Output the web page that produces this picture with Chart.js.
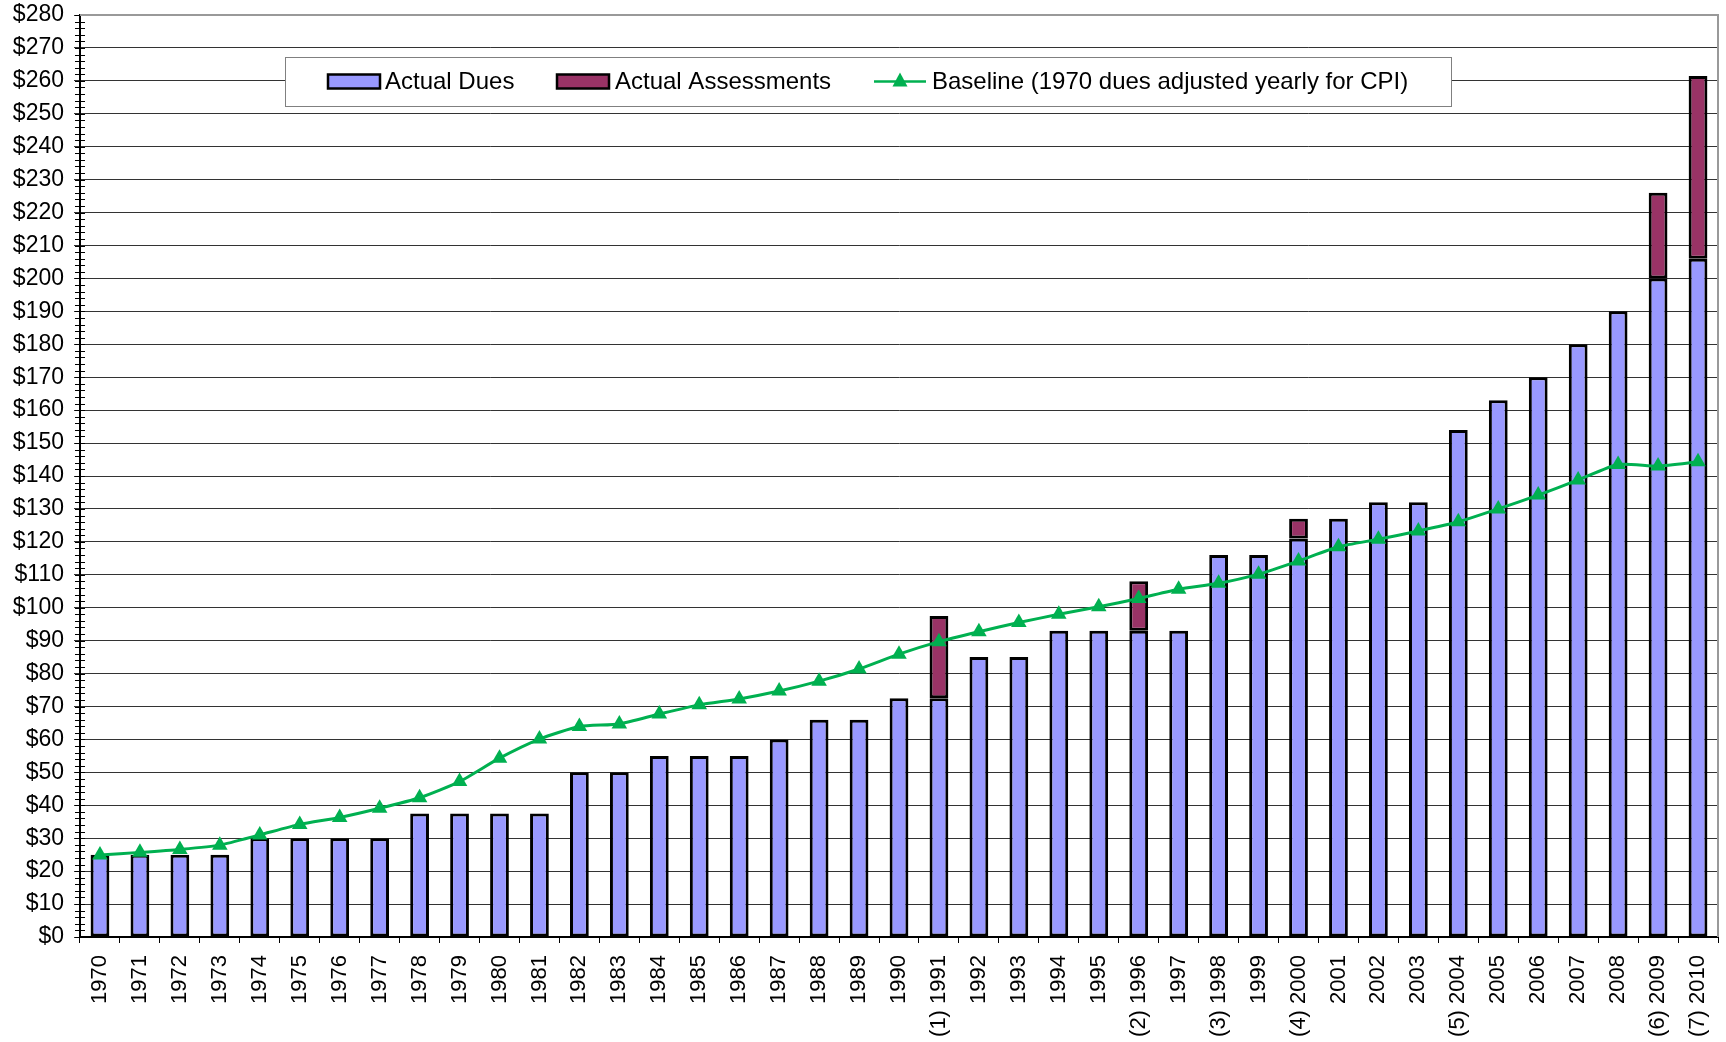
<!DOCTYPE html>
<html>
<head>
<meta charset="utf-8">
<script src="https://cdn.jsdelivr.net/npm/chart.js@4/dist/chart.umd.min.js"></script>
<style>
  html, body { margin: 0; padding: 0; background: #fff; }
  #wrap { width: 1726px; height: 1042px; position: relative; }
</style>
</head>
<body>
<div id="wrap"><canvas id="dues-canvas"></canvas></div>
<script>
const years = ['1970', '1971', '1972', '1973', '1974', '1975', '1976', '1977', '1978', '1979',
  '1980', '1981', '1982', '1983', '1984', '1985', '1986', '1987', '1988', '1989',
  '1990', '(1) 1991', '1992', '1993', '1994', '1995', '(2) 1996', '1997', '(3) 1998', '1999',
  '(4) 2000', '2001', '2002', '2003', '(5) 2004', '2005', '2006', '2007', '2008', '(6) 2009', '(7) 2010']

const actualDues = [25, 25, 25, 25, 30, 30, 30, 30, 37.5, 37.5,
  37.5, 37.5, 50, 50, 55, 55, 55, 60, 66, 66,
  72.5, 72.5, 85, 85, 93, 93, 93, 93, 116, 116,
  121, 127, 132, 132, 154, 163, 170, 180, 190, 200, 206]

const actualAssessments = [null, null, null, null, null, null, null, null, null, null,
  null, null, null, null, null, null, null, null, null, null,
  null, 25, null, null, null, null, 15, null, null, null,
  6, null, null, null, null, null, null, null, null, 26, 55.5]

const baseline = [24.9, 25.7, 26.6, 27.9, 31.0, 34.2, 36.3, 39.1, 42.3, 47.2,
  54.3, 60.1, 63.9, 64.7, 67.7, 70.5, 72.3, 74.7, 77.7, 81.4,
  85.9, 89.7, 92.7, 95.5, 98.0, 100.3, 102.8, 105.6, 107.4, 110.2,
  114.2, 118.5, 120.8, 123.3, 126.1, 130.0, 134.2, 138.8, 143.5, 143.0, 144.3]

const seriesNames = ['Actual Dues', 'Actual Assessments', 'Baseline (1970 dues adjusted yearly for CPI)']

const FONT = "'Liberation Sans', Arial, sans-serif"
const duesColor = '#9999FF'
const assessColor = '#993366'
const lineColor = '#00B050'

// minor ticks on the value axis + gray top/right frame
const framePlugin = {
  id: 'frame',
  afterDraw(chart) {
    const { ctx, chartArea } = chart
    const y = chart.scales.y
    ctx.save()
    ctx.strokeStyle = '#000'
    ctx.lineWidth = 1
    for (let v = 0; v <= 280; v += 2) {
      const py = Math.round(y.getPixelForValue(v)) + 0.5
      ctx.beginPath()
      ctx.moveTo(chartArea.left - 5, py)
      ctx.lineTo(chartArea.left + 5, py)
      ctx.stroke()
    }
    ctx.strokeStyle = '#999'
    ctx.lineWidth = 2
    ctx.beginPath()
    ctx.moveTo(chartArea.left, chartArea.top)
    ctx.lineTo(chartArea.right, chartArea.top)
    ctx.lineTo(chartArea.right, chartArea.bottom)
    ctx.stroke()
    ctx.restore()
  }
}

// legend box drawn inside the plot, like the Excel original
const boxLegend = {
  id: 'boxLegend',
  afterDraw(chart) {
    const { ctx } = chart
    const box = { x: 285, y: 57, w: 1166, h: 49 }
    const midY = box.y + box.h / 2
    ctx.save()
    ctx.fillStyle = '#fff'
    ctx.fillRect(box.x, box.y, box.w, box.h)
    ctx.strokeStyle = '#808080'
    ctx.lineWidth = 1
    ctx.strokeRect(box.x + 0.5, box.y + 0.5, box.w, box.h)

    ctx.font = '24px ' + FONT
    ctx.textBaseline = 'middle'

    const swatch = (x, color) => {
      ctx.fillStyle = color
      ctx.fillRect(x, midY - 7, 52, 14)
      ctx.strokeStyle = '#000'
      ctx.lineWidth = 2.5
      ctx.strokeRect(x, midY - 7, 52, 14)
    }
    swatch(328, duesColor)
    ctx.fillStyle = '#000'
    ctx.fillText(seriesNames[0], 385, midY + 1)
    swatch(557, assessColor)
    ctx.fillStyle = '#000'
    ctx.fillText(seriesNames[1], 615, midY + 1)

    ctx.strokeStyle = lineColor
    ctx.lineWidth = 2.5
    ctx.beginPath()
    ctx.moveTo(874, midY)
    ctx.lineTo(926, midY)
    ctx.stroke()
    ctx.fillStyle = lineColor
    ctx.beginPath()
    ctx.moveTo(900, midY - 9)
    ctx.lineTo(907.5, midY + 5)
    ctx.lineTo(892.5, midY + 5)
    ctx.closePath()
    ctx.fill()
    ctx.fillStyle = '#000'
    ctx.fillText(seriesNames[2], 932, midY + 1)
    ctx.restore()
  }
}

new Chart(document.querySelector('#dues-canvas'), {
  type: 'bar',
  data: {
    labels: years,
    datasets: [
      {
        type: 'line',
        label: seriesNames[2],
        data: baseline,
        stack: 'baseline',
        order: 0,
        borderColor: lineColor,
        backgroundColor: lineColor,
        borderWidth: 3,
        tension: 0.2,
        pointStyle: 'triangle',
        pointRadius: 9,
        pointBorderWidth: 0,
        pointBackgroundColor: lineColor
      },
      {
        label: seriesNames[0],
        data: actualDues,
        stack: 'dues',
        order: 1,
        backgroundColor: duesColor,
        borderColor: '#000',
        borderWidth: 3,
        borderSkipped: false,
        categoryPercentage: 1,
        barPercentage: 0.47
      },
      {
        label: seriesNames[1],
        data: actualAssessments,
        stack: 'dues',
        order: 1,
        backgroundColor: assessColor,
        borderColor: '#000',
        borderWidth: 3,
        borderSkipped: false,
        categoryPercentage: 1,
        barPercentage: 0.47
      }
    ]
  },
  options: {
    responsive: true,
    maintainAspectRatio: false,
    animation: false,
    layout: { autoPadding: false, padding: { top: 15, right: 8, left: 0, bottom: 0 } },
    plugins: {
      legend: { display: false },
      tooltip: { enabled: false }
    },
    scales: {
      x: {
        stacked: true,
        afterFit(scale) {
          scale.height = 105
          scale.paddingLeft = 0
          scale.paddingRight = 0
        },
        grid: {
          drawOnChartArea: false,
          drawTicks: true,
          tickLength: 6,
          color: '#000',
          offset: true
        },
        border: { color: '#000', width: 2 },
        ticks: {
          color: '#000',
          font: { family: FONT, size: 22 },
          minRotation: 90,
          maxRotation: 90,
          autoSkip: false,
          padding: 12
        }
      },
      y: {
        stacked: true,
        min: 0,
        max: 280,
        afterFit(scale) {
          scale.width = 80
          scale.paddingTop = 0
          scale.paddingBottom = 0
        },
        grid: {
          color: 'rgba(0,0,0,0.8)',
          lineWidth: 1,
          tickLength: 6
        },
        border: { color: '#000', width: 2 },
        ticks: {
          stepSize: 10,
          color: '#000',
          font: { family: FONT, size: 23 },
          padding: 10,
          callback: value => '$' + value
        }
      }
    }
  },
  plugins: [framePlugin, boxLegend]
})
</script>
</body>
</html>
